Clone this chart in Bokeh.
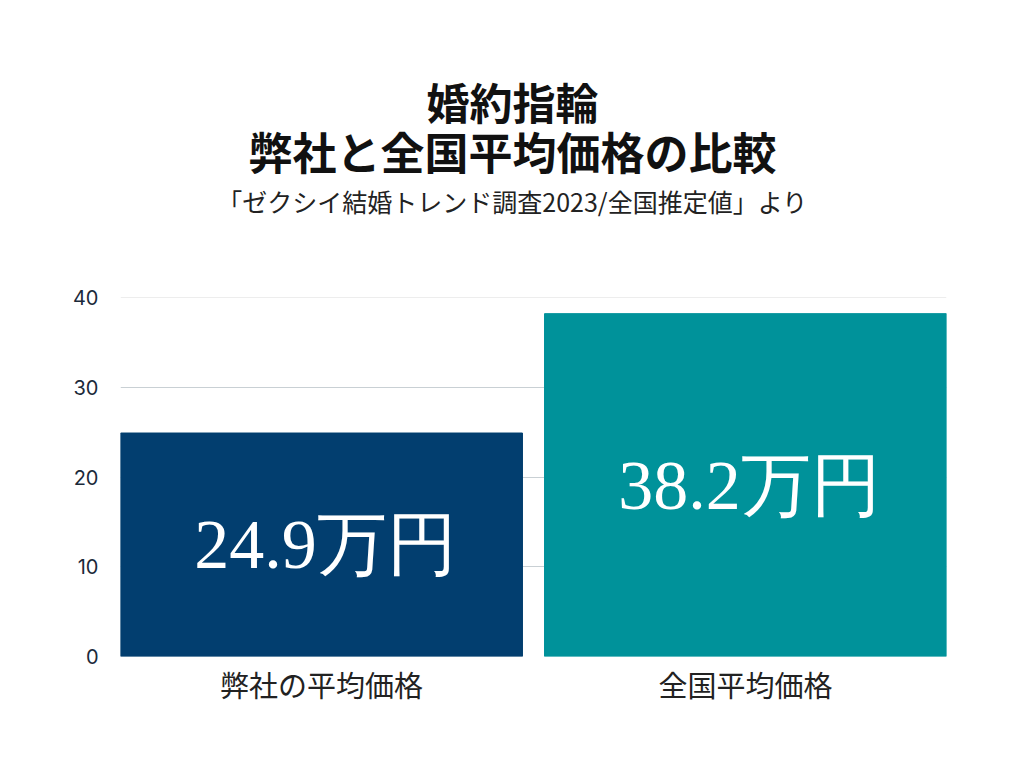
from bokeh.plotting import figure
from bokeh.models import ColumnDataSource, Label, Grid, FixedTicker, Range1d
from bokeh.embed import file_html
from bokeh.resources import INLINE

categories = ["弊社の平均価格", "全国平均価格"]
values = [24.9, 38.2]
value_labels = ["24.9万円", "38.2万円"]
colors = ["#023e6f", "#00929a"]
y_ticks = [0, 10, 20, 30, 40]

title_lines = ["婚約指輪", "弊社と全国平均価格の比較"]
subtitle = "「ゼクシイ結婚トレンド調査2023/全国推定値」より"

bar_w = 0.948
xs = list(range(len(categories)))
src = ColumnDataSource(dict(x=xs, top=values, mid=[v / 2 for v in values],
                            lab=value_labels, color=colors))

# the frame reaches up to the top of the page so the heading fits inside it;
# the 0..40 scale spans pixel rows 297..656
y_end = 40 * 656 / (656 - 297)

p = figure(width=1008, height=752, output_backend="svg", toolbar_location=None,
           x_range=Range1d(-bar_w / 2, len(categories) - 1 + bar_w / 2),
           y_range=Range1d(0, y_end),
           min_border_left=120, min_border_right=62,
           min_border_top=0, min_border_bottom=96)
p.title = None
p.outline_line_color = None
p.background_fill_color = "white"
p.border_fill_color = "white"

p.xgrid.visible = False
p.ygrid.ticker = FixedTicker(ticks=[0, 10, 20, 30])
p.ygrid.grid_line_color = "#c9d0d4"
top_grid = Grid(dimension=1, ticker=FixedTicker(ticks=[40]),
                grid_line_color="#ededed")
p.add_layout(top_grid)

p.vbar(x="x", top="top", bottom=0, width=bar_w, color="color", source=src)
p.text(x="x", y="mid", text="lab", source=src, text_color="white",
       text_font_size="70px", text_font={"value": "Liberation Serif"},
       text_align="center", text_baseline="middle", x_offset=4)

p.yaxis.ticker = FixedTicker(ticks=y_ticks)
p.yaxis.axis_line_color = None
p.yaxis.major_tick_line_color = None
p.yaxis.minor_tick_line_color = None
p.yaxis.major_label_text_font = "Inter"
p.yaxis.major_label_text_font_size = "20px"
p.yaxis.major_label_text_color = "#1b2a3a"
p.yaxis.major_label_standoff = 16

p.xaxis.ticker = FixedTicker(ticks=xs)
p.xaxis.major_label_overrides = {i: c for i, c in enumerate(categories)}
p.xaxis.axis_line_color = None
p.xaxis.major_tick_line_color = None
p.xaxis.minor_tick_line_color = None
p.xaxis.major_label_text_font = "Noto Sans CJK JP"
p.xaxis.major_label_text_font_size = "29px"
p.xaxis.major_label_text_color = "#222222"
p.xaxis.major_label_standoff = 0

# heading, in pixels from the frame's bottom-left corner
head = [(title_lines[0], 556, "43px", "bold", "#111111"),
        (title_lines[1], 506, "44px", "bold", "#111111"),
        (subtitle, 456, "25px", "normal", "#222222")]
for txt, yy, size, style, col in head:
    p.add_layout(Label(x=392, y=yy, x_units="screen", y_units="screen", text=txt,
                       text_font="Noto Sans CJK JP", text_font_size=size,
                       text_font_style=style, text_color=col,
                       text_align="center", text_baseline="middle"))

open("out.html", "w").write(file_html(p, INLINE))
